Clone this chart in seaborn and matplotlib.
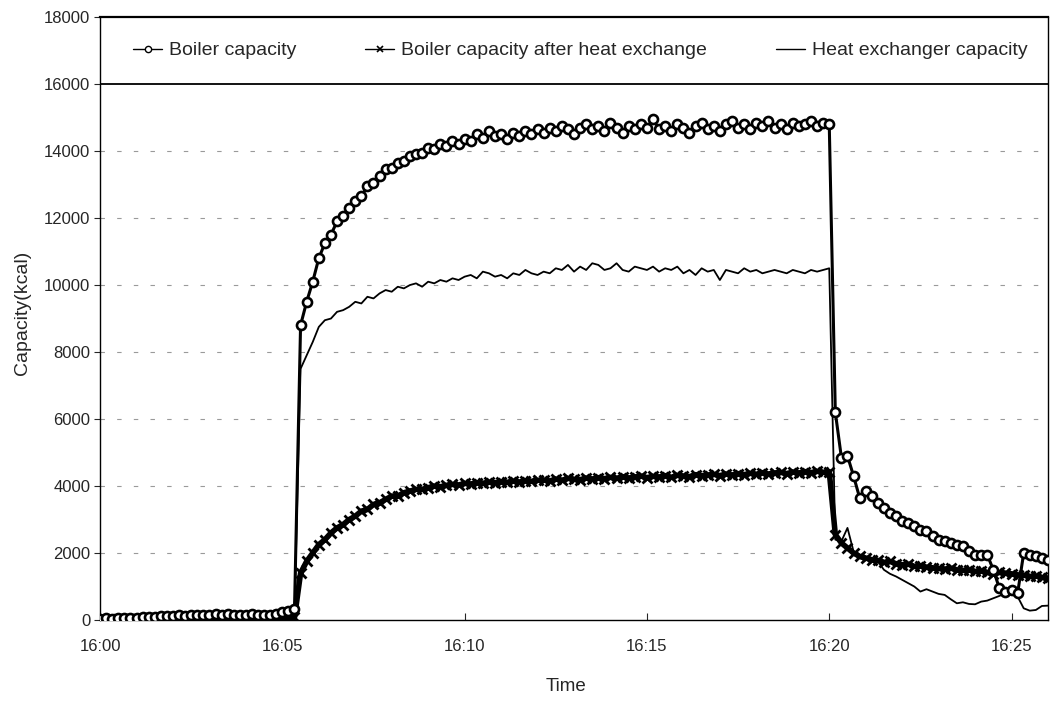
import numpy as np
import pandas as pd
import matplotlib
matplotlib.use("Agg")
import matplotlib.pyplot as plt
from matplotlib.lines import Line2D
import seaborn as sns

# ---- data (10-second samples from 16:00:00 to 16:26:00) ----
start_time = "2000-01-01 16:00:00"
n_points = 157

boiler = [40, 50, 45, 55, 60, 70, 65, 80, 90, 95, 110, 120, 125, 140, 135, 150, 160, 155, 165, 170,
          160, 175, 165, 155, 160, 170, 150, 165, 160, 175, 230, 280,
          320,
          8800, 9500, 10100, 10800, 11250, 11500, 11900, 12050, 12300, 12500,
          12650, 12950, 13050, 13250, 13450, 13500, 13650, 13700, 13850, 13900,
          13950, 14100, 14050, 14200, 14150, 14300, 14200, 14350, 14300, 14500,
          14400, 14600, 14450, 14500, 14350, 14550, 14450, 14600, 14500, 14650,
          14550, 14700, 14600, 14750, 14650, 14500, 14700, 14800,
          14650, 14750, 14600, 14850, 14700, 14550, 14750, 14650, 14800, 14700,
          14950, 14650, 14750, 14600, 14800, 14700, 14550, 14750, 14850, 14650,
          14750, 14600, 14800, 14900, 14700, 14800, 14650, 14850, 14750, 14900,
          14700, 14800, 14650, 14850, 14750, 14800, 14900, 14750, 14850, 14800,
          6200, 4850, 4900, 4300, 3650, 3850, 3700, 3500, 3350, 3200,
          3100, 2950, 2900, 2800, 2700, 2650, 2500, 2400, 2350, 2300,
          2250, 2200, 2050, 1950, 1950, 1950, 1500, 950, 850, 900,
          800, 2000, 1950, 1900, 1850, 1800]

after_exchange = [10, 15, 10, 20, 15, 25, 20, 30, 25, 30, 35, 30, 40, 35, 40, 45, 40, 50, 45, 40,
                  50, 45, 40, 45, 50, 40, 45, 50, 45, 50, 60, 70,
                  80,
                  1400, 1750, 2000, 2250, 2400, 2600, 2750, 2850, 3000, 3100,
                  3250, 3300, 3450, 3500, 3600, 3700, 3700, 3800, 3850, 3900,
                  3900, 3950, 4000, 3980, 4020, 4050, 4030, 4080, 4060, 4100,
                  4080, 4120, 4100, 4130, 4110, 4150, 4120, 4160, 4140, 4170,
                  4180, 4150, 4210, 4170, 4230, 4200, 4190, 4240,
                  4210, 4250, 4220, 4260, 4230, 4280, 4240, 4270, 4300, 4250,
                  4290, 4270, 4310, 4260, 4320, 4300, 4280, 4340, 4310, 4330,
                  4350, 4310, 4360, 4330, 4370, 4340, 4380, 4350, 4400, 4360,
                  4390, 4410, 4370, 4420, 4390, 4430, 4400, 4440, 4410, 4430,
                  2550, 2300, 2150, 2000, 1900, 1850, 1800, 1780, 1720, 1750,
                  1680, 1650, 1670, 1600, 1620, 1580, 1560, 1540, 1520, 1550,
                  1500, 1480, 1500, 1450, 1470, 1420, 1380, 1420, 1400, 1380,
                  1350, 1340, 1300, 1320, 1270, 1250]

heat_exchanger = [30, 35, 30, 40, 45, 50, 45, 55, 60, 65, 75, 85, 90, 100, 95, 105, 115, 110, 120, 125,
                  115, 130, 120, 110, 115, 125, 105, 120, 115, 125, 170, 200,
                  220,
                  7500, 7900, 8300, 8750, 8950, 9000, 9200, 9250, 9350, 9500,
                  9450, 9650, 9600, 9750, 9850, 9800, 9950, 9900, 10000, 10050,
                  9950, 10100, 10050, 10150, 10100, 10200, 10150, 10250, 10300, 10200,
                  10400, 10350, 10250, 10300, 10200, 10350, 10300, 10450, 10350, 10300,
                  10400, 10350, 10500, 10450, 10600, 10400, 10550, 10450,
                  10650, 10600, 10450, 10500, 10650, 10450, 10400, 10550, 10500, 10450,
                  10550, 10400, 10500, 10450, 10550, 10350, 10450, 10300, 10500, 10400,
                  10450, 10150, 10450, 10400, 10350, 10500, 10400, 10450, 10350, 10400,
                  10450, 10400, 10350, 10450, 10400, 10350, 10450, 10400, 10450, 10500,
                  2400, 2350, 2750, 2050, 1850, 1800, 1820, 1750, 1500, 1380,
                  1300, 1200, 1100, 1000, 850, 920, 850, 780, 750, 620,
                  500, 530, 480, 470, 550, 580, 650, 720, 800, 760,
                  700, 350, 280, 300, 420, 430]

labels = ["Boiler capacity", "Boiler capacity after heat exchange", "Heat exchanger capacity"]
tick_times = ["16:00", "16:05", "16:10", "16:15", "16:20", "16:25"]
y_ticks = [0, 2000, 4000, 6000, 8000, 10000, 12000, 14000, 16000, 18000]

times = pd.date_range(start_time, periods=n_points, freq="10s")
df = pd.DataFrame({"time": times, "boiler": boiler,
                   "after": after_exchange, "hx": heat_exchanger})

sns.set_style("white")
plt.rcParams["font.family"] = ["Liberation Sans", "DejaVu Sans"]

fig = plt.figure(figsize=(10.52, 7.01), dpi=100)
ax = fig.add_axes([0.0951, 0.1155, 0.9011, 0.8602])

sns.lineplot(data=df, x="time", y="hx", ax=ax, color="black", lw=1.3,
             estimator=None, legend=False, zorder=2)
sns.lineplot(data=df, x="time", y="after", ax=ax, color="black", lw=4.0,
             marker="x", markersize=6.5, markeredgewidth=2.0, markeredgecolor="black",
             estimator=None, legend=False, zorder=3)
sns.lineplot(data=df, x="time", y="boiler", ax=ax, color="black", lw=2.2,
             marker="o", markersize=6.5, markerfacecolor="white",
             markeredgecolor="black", markeredgewidth=1.9,
             estimator=None, legend=False, zorder=4)

x0 = pd.Timestamp(start_time)
ax.set_xlim(x0, x0 + pd.Timedelta(minutes=26))
ax.set_ylim(0, 18000)
ax.set_yticks(y_ticks)
ax.set_yticklabels([str(v) for v in y_ticks])
ax.set_xticks([x0 + pd.Timedelta(minutes=5 * k) for k in range(len(tick_times))])
ax.set_xticklabels(tick_times)

for y in y_ticks[1:8]:
    ax.axhline(y, color="#9a9a9a", lw=0.8, ls=(0, (4, 11)), zorder=1)
ax.axhline(16000, color="black", lw=1.3, zorder=5)

ax.tick_params(axis="y", direction="out", length=4, width=0.8, labelsize=12, pad=3, left=True)
ax.tick_params(axis="x", direction="in", length=5, width=0.8, labelsize=12, pad=14, bottom=True)
for side, sp in ax.spines.items():
    sp.set_color("black")
    sp.set_linewidth(1.0)
ax.spines["top"].set_linewidth(1.6)

ax.set_xlabel("Time", fontsize=13.5)
ax.set_ylabel("Capacity(kcal)", fontsize=14)
ax.xaxis.set_label_coords(0.4916, -0.111)
ax.xaxis.label.set_va("center")
ax.yaxis.set_label_coords(-0.082, 0.509)
ax.yaxis.label.set_va("center")

legend_handles = [
    Line2D([], [], color="black", lw=1.0, marker="o", markersize=4.5,
           markerfacecolor="white", markeredgecolor="black", markeredgewidth=1.0),
    Line2D([], [], color="black", lw=1.0, marker="x", markersize=4.5,
           markeredgewidth=1.2, markeredgecolor="black"),
    Line2D([], [], color="black", lw=1.0),
]
leg = ax.legend(legend_handles, labels,
                loc="center", bbox_to_anchor=(0.035, 16000 / 18000, 0.943, 2000 / 18000),
                mode="expand", ncol=3, frameon=False, fontsize=14,
                handlelength=1.5, handletextpad=0.35, borderaxespad=0.0,
                borderpad=0.0, columnspacing=1.0)

fig.savefig("out.png", dpi=100)
